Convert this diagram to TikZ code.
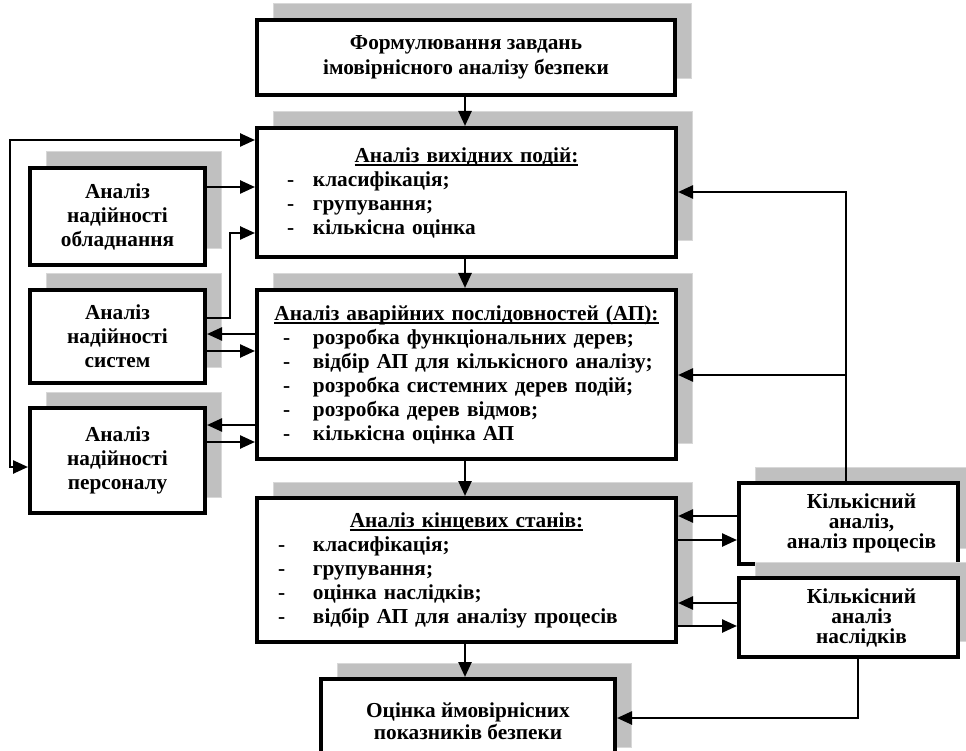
\documentclass[tikz,border=0pt]{standalone}
\usepackage{fontspec}
\setmainfont{Liberation Serif}
\usetikzlibrary{shadows,arrows.meta}
\definecolor{shgray}{HTML}{C0C0C0}
\definecolor{shedge}{HTML}{D8D8D8}
\newcommand{\dashitem}[2]{\par\noindent\hspace*{#1pt}\makebox[\dimexpr56pt-#1pt\relax][l]{-}#2}
\newcommand{\myul}[1]{\setbox0\hbox{#1}\rlap{\rule[-4pt]{\wd0}{1.8pt}}\box0}
\begin{document}
\begin{tikzpicture}[x=1pt,y=-1pt,
  box/.style={draw, line width=4pt, fill=white, inner sep=0pt, align=center,
    font=\bfseries\fontsize{21.3}{24}\selectfont,
    general shadow={fill=shgray, draw=shedge, line width=1pt, shadow xshift=16pt, shadow yshift=16pt}},
  listbox/.style={box, align=left, text width=#1},
  tight/.style={font=\bfseries\fontsize{21.3}{#1}\selectfont},
  conn/.style={line width=2.5pt, -{Triangle[length=15pt,width=13pt]}},
  conn2/.style={line width=2.5pt, {Triangle[length=15pt,width=13pt]}-{Triangle[length=15pt,width=13pt]}}]
\useasboundingbox (0,0) rectangle (966,751);

% central column
\node[box, tight=25, minimum width=418pt, minimum height=75pt] (top) at (466,57.5)
  {Формулювання завдань\\імовірнісного аналізу безпеки};
\node[listbox=419pt, minimum height=129pt] (ev) at (466.5,192.5)
  {\centerline{\myul{Аналіз вихідних подій:}}%
   \dashitem{30}{класифікація;}\dashitem{30}{групування;}\dashitem{30}{кількісна оцінка}};
\node[listbox=419pt, minimum height=169pt] (ap) at (466.5,374.5)
  {\centerline{\myul{Аналіз аварійних послідовностей (АП):}}%
   \dashitem{26}{розробка функціональних дерев;}\dashitem{26}{відбір АП для кількісного аналізу;}%
   \dashitem{26}{розробка системних дерев подій;}\dashitem{26}{розробка дерев відмов;}%
   \dashitem{26}{кількісна оцінка АП}};
\node[listbox=419pt, minimum height=144pt] (fin) at (466.5,570)
  {\centerline{\myul{Аналіз кінцевих станів:}}%
   \dashitem{21}{класифікація;}\dashitem{21}{групування;}\dashitem{21}{оцінка наслідків;}%
   \dashitem{21}{відбір АП для аналізу процесів}};
\node[box, tight=22, minimum width=294pt, minimum height=84pt] (est) at (468,721)
  {Оцінка ймовірнісних\\показників безпеки};

% left column
\node[box, minimum width=175pt, minimum height=97pt] (eq) at (117.5,216.5)
  {Аналіз\\надійності\\обладнання};
\node[box, minimum width=175pt, minimum height=93pt] (sys) at (117.5,336.5)
  {Аналіз\\надійності\\систем};
\node[box, minimum width=175pt, minimum height=105pt] (pers) at (117.5,460.5)
  {Аналіз\\надійності\\персоналу};

% right column
\node[box, tight=20, minimum width=219pt, minimum height=81pt] (qa) at (848.5,523.5)
  {\hspace*{26pt}Кількісний\\\hspace*{26pt}аналіз,\\\hspace*{26pt}аналіз процесів};
\node[box, tight=20, minimum width=219pt, minimum height=79pt] (qc) at (848.5,617.5)
  {\hspace*{26pt}Кількісний\\\hspace*{26pt}аналіз\\\hspace*{26pt}наслідків};

% vertical flow
\draw[conn] (top.south -| 465,0) -- (ev.north -| 465,0);
\draw[conn] (ev.south -| 465,0) -- (ap.north -| 465,0);
\draw[conn] (ap.south -| 465,0) -- (fin.north -| 465,0);
\draw[conn] (fin.south -| 465,0) -- (est.north -| 465,0);

% left connections
\coordinate (loopA) at (10,140);
\coordinate (loopB) at (10,467);
\draw[conn2] (ev.west |- loopA) -- (loopA) -- (loopB) -- (pers.west |- loopB);
\draw[conn] (eq.east |- 0,187) -- (ev.west |- 0,187);
\coordinate (sysbend) at (230,233);
\draw[conn] (sys.east |- 0,318) -| (sysbend) -- (ev.west |- sysbend);
\draw[conn] (ap.west |- 0,334) -- (sys.east |- 0,334);
\draw[conn] (sys.east |- 0,351) -- (ap.west |- 0,351);
\draw[conn] (ap.west |- 0,425) -- (pers.east |- 0,425);
\draw[conn] (pers.east |- 0,442) -- (ap.west |- 0,442);

% right connections
\coordinate (rtop) at (846,192);
\coordinate (rmid) at (846,375);
\draw[conn] (qa.north -| rtop) -- (rtop) -- (ev.east |- rtop);
\draw[conn] (rmid) -- (ap.east |- rmid);
\draw[conn] (qa.west |- 0,516) -- (fin.east |- 0,516);
\draw[conn] (fin.east |- 0,540) -- (qa.west |- 0,540);
\draw[conn] (qc.west |- 0,603) -- (fin.east |- 0,603);
\draw[conn] (fin.east |- 0,626) -- (qc.west |- 0,626);
\coordinate (rbot) at (858,718);
\draw[conn] (qc.south -| rbot) -- (rbot) -- (est.east |- rbot);
\end{tikzpicture}
\end{document}
